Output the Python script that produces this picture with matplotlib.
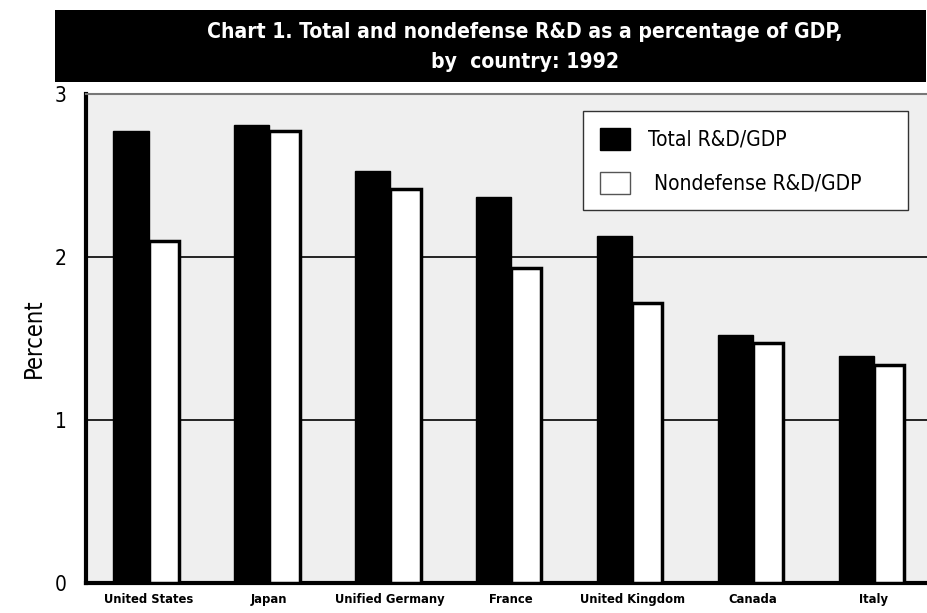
import numpy as np
import matplotlib.pyplot as plt
from matplotlib.patches import Rectangle, Patch
from matplotlib import font_manager

# R&D intensity by country, 1992 (percent of GDP)
countries = ['United States', 'Japan', 'Unified Germany', 'France',
             'United Kingdom', 'Canada', 'Italy']
total_rd = [2.77, 2.81, 2.53, 2.37, 2.13, 1.52, 1.39]
nondefense_rd = [2.10, 2.77, 2.42, 1.93, 1.72, 1.47, 1.34]
y_ticks = [0, 1, 2, 3]

# prefer a narrow face if one is around
fonts = font_manager.fontManager.ttflist
names = {f.name for f in fonts}
stretch = 'normal'
if 'Liberation Sans Narrow' in names:
    family = 'Liberation Sans Narrow'
    scale = 1.15
elif any(f.name == 'DejaVu Sans' and 'ondensed' in f.fname for f in fonts):
    family = 'DejaVu Sans'
    stretch = 'condensed'
    scale = 1.0
else:
    family = 'Liberation Sans'
    scale = 1.0
plt.rcParams['font.family'] = [family, 'DejaVu Sans']
plt.rcParams['font.stretch'] = stretch

fig = plt.figure(figsize=(9.27, 6.13), dpi=100)
ax = fig.add_axes([0.0928, 0.0489, 0.9072, 0.7978])
ax.set_facecolor('#efefef')

x = np.arange(len(countries))
ax.bar(x - 0.29, total_rd, width=0.29, align='edge', color='black',
       edgecolor='black', linewidth=1.0, zorder=3)
ax.bar(x, nondefense_rd, width=0.25, align='edge', color='white',
       edgecolor='black', linewidth=2.5, zorder=3)

ax.set_xlim(-0.517, 6.44)
ax.set_ylim(0, 3)
ax.set_yticks(y_ticks)
ax.set_yticklabels([str(t) for t in y_ticks], fontsize=15)
ax.set_xticks(x)
ax.set_xticklabels(countries, fontsize=9.3 * scale, fontweight='bold')
ax.tick_params(axis='both', length=0)
ax.tick_params(axis='y', pad=14)
ax.tick_params(axis='x', pad=7)

for yv in [1, 2]:
    ax.axhline(yv, color='black', linewidth=1.2, zorder=1)

ax.spines['left'].set_linewidth(3)
ax.spines['bottom'].set_linewidth(3)
ax.spines['top'].set_color('#777777')
ax.spines['top'].set_linewidth(1.5)
ax.spines['right'].set_visible(False)

ax.set_ylabel('Percent', fontsize=17, labelpad=6)

handles = [Patch(facecolor='black', edgecolor='black'),
           Patch(facecolor='white', edgecolor='#555555', linewidth=1)]
leg = ax.legend(handles, ['Total R&D/GDP', ' Nondefense R&D/GDP'],
                loc='upper left', mode='expand',
                bbox_to_anchor=(583 / 927, 1 - 216 / 613, 325 / 927, 105 / 613),
                bbox_transform=fig.transFigure, fontsize=15 * scale,
                frameon=True, fancybox=False, borderaxespad=0,
                borderpad=0.8, handlelength=1.45, handleheight=1.25,
                handletextpad=0.85, labelspacing=1.05)
leg.get_frame().set_edgecolor('#333333')
leg.get_frame().set_linewidth(1.0)
leg.get_frame().set_facecolor('white')
leg.get_frame().set_alpha(1)
leg.set_zorder(5)

# black title banner
fig.patches.append(Rectangle((55 / 927, 1 - 82 / 613), 871 / 927, 72 / 613,
                             transform=fig.transFigure, facecolor='black',
                             edgecolor='none'))
fig.text(525 / 927, 1 - 32 / 613,
         'Chart 1. Total and nondefense R&D as a percentage of GDP,',
         color='white', fontsize=15.1 * scale, fontweight='bold',
         ha='center', va='center')
fig.text(525 / 927, 1 - 62 / 613, 'by  country: 1992',
         color='white', fontsize=15.1 * scale, fontweight='bold',
         ha='center', va='center')

fig.savefig('out.png', dpi=100)
